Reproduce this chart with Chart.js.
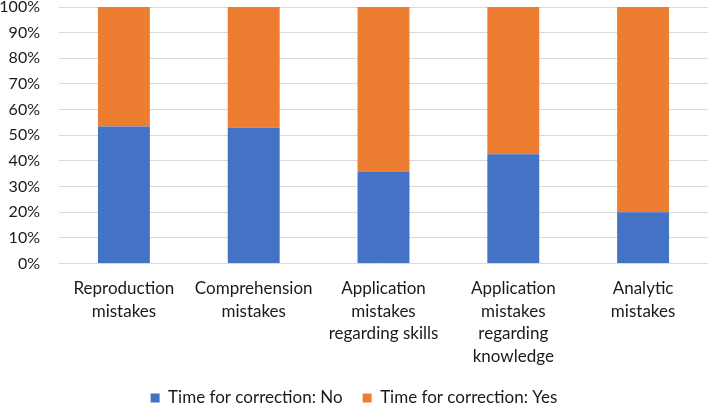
<!DOCTYPE html>
<html>
<head>
<meta charset="utf-8">
<script src="https://cdn.jsdelivr.net/npm/chart.js@4.4.1/dist/chart.umd.min.js"></script>
<style>
	body {
		margin: 0;
		background: #fff;
	}
	#box {
		width: 708px;
		height: 404px;
		position: relative;
	}
</style>
</head>
<body>
<div id="box"><canvas id="chart"></canvas></div>

<script>
// categories (multi-line, as in the original)
const categories = [
	['Reproduction', 'mistakes'],
	['Comprehension', 'mistakes'],
	['Application', 'mistakes', 'regarding skills'],
	['Application', 'mistakes', 'regarding', 'knowledge'],
	['Analytic', 'mistakes']
];
const noValues  = [53.4, 52.9, 35.9, 42.6, 20.0];
const yesValues = [46.6, 47.1, 64.1, 57.4, 80.0];
const seriesNames = ['Time for correction: No', 'Time for correction: Yes'];

const txt = '#1a1a1a';

new Chart('chart', {
	type: 'bar',
	data: {
		labels: categories,
		datasets: [
			{ label: seriesNames[0], data: noValues, backgroundColor: '#4472c4', borderWidth: 0 },
			{ label: seriesNames[1], data: yesValues, backgroundColor: '#ed7d31', borderWidth: 0 }
		]
	},
	options: {
		responsive: true,
		maintainAspectRatio: false,
		animation: false,
		layout: { padding: { top: 7, right: 0, left: 0, bottom: -12.5 } },
		datasets: { bar: { categoryPercentage: 1, barPercentage: 0.4 } },
		scales: {
			x: {
				stacked: true,
				grid: { display: false, drawTicks: false },
				border: { display: false },
				ticks: { color: txt, font: { family: 'Lato', size: 17, lineHeight: 1.32 }, maxRotation: 0, autoSkip: false, padding: 14 },
				afterFit: s => { s.height = 106; }
			},
			y: {
				stacked: true,
				min: 0,
				max: 100,
				grid: { color: '#d9d9d9', drawTicks: false },
				border: { display: false },
				ticks: { stepSize: 10, autoSkip: false, color: txt, font: { family: 'Lato', size: 16 }, padding: 19, callback: v => v + '%' },
				// fixed axis width, no extra room above/below for the tick labels
				afterFit: s => { s.width = 59; s.paddingTop = 0; s.paddingBottom = 0; }
			}
		},
		plugins: {
			tooltip: { enabled: false },
			legend: {
				position: 'bottom',
				labels: { color: txt, font: { family: 'Lato', size: 17, lineHeight: 0.5 }, boxWidth: 9, boxHeight: 9, padding: 20 }
			}
		}
	}
});
</script>
</body>
</html>
